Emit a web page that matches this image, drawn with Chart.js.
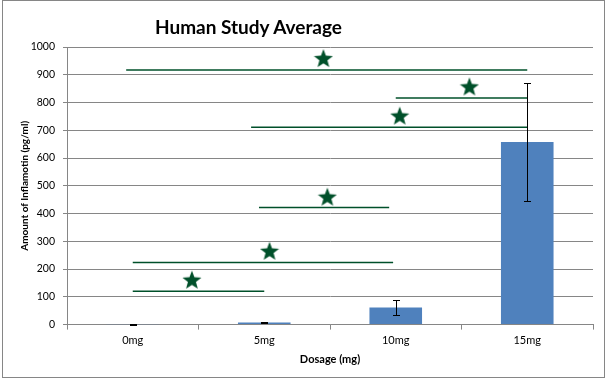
<!DOCTYPE html>
<html>
<head>
<meta charset="utf-8">
<script src="https://cdn.jsdelivr.net/npm/chart.js@4/dist/chart.umd.min.js"></script>
<style>
  html, body { margin: 0; padding: 0; background: #ffffff; }
  #wrap { position: relative; width: 607px; height: 378px; overflow: hidden; }
  #frame { position: absolute; left: 2px; top: 0px; width: 601px; height: 376px; border: 1px solid #868686; box-sizing: content-box; }
  #title { position: absolute; left: 0; top: 15px; width: 497px; text-align: center;
           font-family: Lato, 'Open Sans', sans-serif; font-weight: bold; font-size: 19px; color: #000; }
  canvas { position: absolute; left: 0; top: 0; }
</style>
</head>
<body>
<script>
// ---- data ----
const categories = ['0mg', '5mg', '10mg', '15mg'];
const means      = [1, 8, 62, 658];
const errLow     = [0, 6, 35, 444];
const errHigh    = [2, 10, 90, 870];

// significance brackets (x in category-index units, y in pg/ml)
const sigStart = [-0.05, 2.0, 0.9, 0.96, 0.0, 0.0];
const sigEnd   = [3.0, 3.0, 3.0, 1.95, 1.98, 1.0];
const sigLevel = [917, 816, 711, 422, 224, 120];
const starX    = [1.45, 2.56, 2.03, 1.48, 1.04, 0.45];
const starY    = [960, 858, 753, 461, 266, 162];

const yTicks = [0, 100, 200, 300, 400, 500, 600, 700, 800, 900, 1000];
</script>
<div id="wrap">
  <div id="frame"></div>
  <canvas id="c" width="607" height="378"></canvas>
  <div id="title">Human Study Average</div>
</div>
<script>
const GREEN = '#00502A';
const GRID = '#868686';
Chart.defaults.font.family = "Lato, 'Open Sans', sans-serif";
Chart.defaults.color = '#000';

// filled five-point star image
function makeStar(size, color) {
  const cv = document.createElement('canvas');
  cv.width = size; cv.height = size;
  const g = cv.getContext('2d');
  const cx = size / 2, cy = size / 2 + 1, R = size / 2, r = R * 0.42;
  g.beginPath();
  for (let i = 0; i < 10; i++) {
    const rad = i % 2 === 0 ? R : r;
    const a = -Math.PI / 2 + i * Math.PI / 5;
    const px = cx + rad * Math.cos(a), py = cy + rad * Math.sin(a);
    if (i === 0) g.moveTo(px, py); else g.lineTo(px, py);
  }
  g.closePath();
  g.fillStyle = color;
  g.fill();
  return cv;
}
const starImg = makeStar(20, GREEN);

const errorBars = {
  id: 'errorBars',
  afterDatasetsDraw(chart) {
    const meta = chart.getDatasetMeta(0);
    const ys = chart.scales.y;
    const ctx = chart.ctx;
    ctx.save();
    ctx.strokeStyle = '#000';
    ctx.lineWidth = 1;
    meta.data.forEach((bar, i) => {
      const x = Math.round(bar.x) + 0.5;
      const yt = Math.round(ys.getPixelForValue(errHigh[i])) + 0.5;
      const yb = Math.round(ys.getPixelForValue(errLow[i])) + 0.5;
      ctx.beginPath();
      ctx.moveTo(x, yt); ctx.lineTo(x, yb);
      ctx.moveTo(x - 3.5, yt); ctx.lineTo(x + 3.5, yt);
      ctx.moveTo(x - 3.5, yb); ctx.lineTo(x + 3.5, yb);
      ctx.stroke();
    });
    ctx.restore();
  }
};

const datasets = [{
  type: 'bar',
  data: means,
  backgroundColor: '#4F81BD',
  barPercentage: 0.4,
  categoryPercentage: 1.0,
  grouped: false,
  xAxisID: 'x',
  order: 2
}];
sigLevel.forEach((lvl, k) => {
  datasets.push({
    type: 'line',
    xAxisID: 'x2',
    data: [{ x: sigStart[k], y: lvl }, { x: sigEnd[k], y: lvl }],
    borderColor: GREEN,
    borderWidth: 1.5,
    pointRadius: 0,
    fill: false,
    order: 1
  });
});
datasets.push({
  type: 'scatter',
  xAxisID: 'x2',
  data: starX.map((x, i) => ({ x: x, y: starY[i] })),
  pointStyle: starImg,
  pointRadius: 10,
  order: 0
});

new Chart(document.getElementById('c'), {
  type: 'bar',
  data: { labels: categories, datasets: datasets },
  plugins: [errorBars],
  options: {
    responsive: false,
    animation: false,
    layout: { padding: { left: 19, right: 14, top: 47, bottom: 12 } },
    plugins: { legend: { display: false }, tooltip: { enabled: false }, title: { display: false } },
    scales: {
      x: {
        type: 'category',
        grid: { display: true, drawOnChartArea: false, drawTicks: true, tickLength: 5, color: GRID, offset: true },
        border: { display: true, color: GRID, width: 1 },
        ticks: { font: { size: 11 }, color: '#000', padding: 4 },
        title: { display: true, text: 'Dosage (mg)', font: { size: 11, weight: 'bold' }, color: '#000', padding: { top: 2, bottom: 0 } }
      },
      x2: {
        type: 'linear',
        position: 'top',
        display: true,
        min: -0.5,
        max: 3.5,
        offset: false,
        grid: { display: false, drawTicks: false, drawOnChartArea: false },
        border: { display: false },
        ticks: { display: false },
        title: { display: false }
      },
      y: {
        min: 0,
        max: 1000,
        afterBuildTicks(scale) { scale.ticks = yTicks.map(v => ({ value: v })); },
        afterFit(scale) { scale.width = 48; },
        grid: { color: GRID, lineWidth: 1, tickLength: 4, drawTicks: true },
        border: { display: true, color: GRID, width: 1 },
        ticks: { font: { size: 10.5 }, color: '#000', padding: 8, callback: (v) => String(v) },
        title: { display: true, text: 'Amount of Inflamotin (pg/ml)', font: { size: 10, weight: 'bold' }, color: '#000', padding: { top: 0, bottom: 0 } }
      }
    }
  }
});
</script>
</body>
</html>
